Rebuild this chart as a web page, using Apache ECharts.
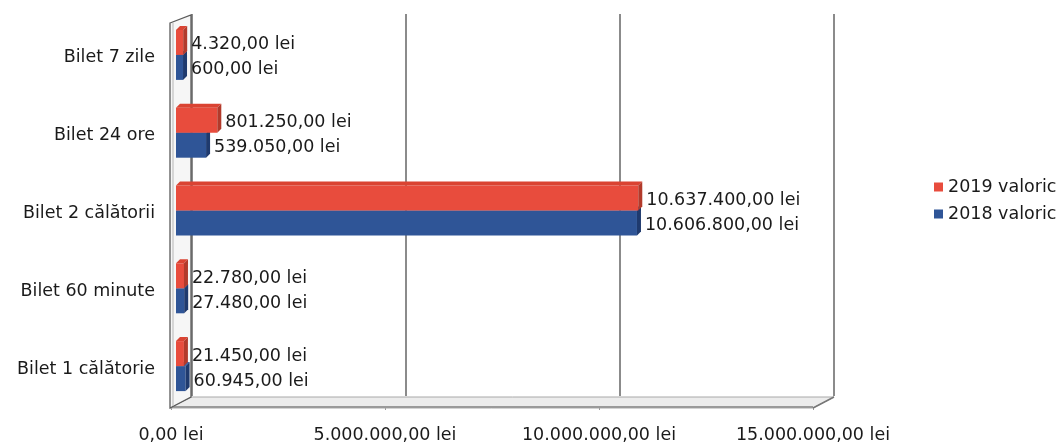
<!DOCTYPE html>
<html>
<head>
<meta charset="utf-8">
<script src="https://cdn.jsdelivr.net/npm/echarts@6/dist/echarts.min.js"></script>
<style>
html,body{margin:0;padding:0;background:#fff;}
#chart{width:1062px;height:445px;}
</style>
</head>
<body>
<div id="chart"></div>
<script>
// ---- data ----
const categories = ['Bilet 7 zile', 'Bilet 24 ore', 'Bilet 2 călătorii', 'Bilet 60 minute', 'Bilet 1 călătorie'];
const values2019 = [4320, 801250, 10637400, 22780, 21450];
const values2018 = [600, 539050, 10606800, 27480, 60945];
const seriesNames = ['2019 valoric', '2018 valoric'];
const axisMin = 0, axisMax = 15000000, axisStep = 5000000;

// ---- helpers ----
function fmt(v) {
  const parts = Number(v).toFixed(2).split('.');
  const intPart = parts[0].replace(/\B(?=(\d{3})+(?!\d))/g, '.');
  return intPart + ',' + parts[1] + ' lei';
}
const FONT = 'DejaVu Sans';
const FS = 17.5;
const TXT = '#1a1a1a';
const DX = 4, DY = -4;

function makeBarRenderer(front, topC, sideC, yTopOff, yBotOff, labelOff) {
  return function (params, api) {
    const v = api.value(0);
    const i = api.value(1);
    const p0 = api.coord([0, i]);
    const p1 = api.coord([v, i]);
    const yc = p0[1] + 1;
    const x0 = p0[0] + 5;
    const x1 = p1[0] + 12;
    const yT = yc + yTopOff, yB = yc + yBotOff;
    return {
      type: 'group',
      children: [
        { type: 'rect', shape: { x: x0, y: yT, width: x1 - x0, height: yB - yT }, style: { fill: front } },
        { type: 'polygon', shape: { points: [[x0, yT], [x1, yT], [x1 + DX, yT + DY], [x0 + DX, yT + DY]] }, style: { fill: topC } },
        { type: 'polygon', shape: { points: [[x1, yT], [x1 + DX, yT + DY], [x1 + DX, yB + DY], [x1, yB]] }, style: { fill: sideC } },
        { type: 'text', x: p1[0] + 20, y: yc + labelOff,
          style: { text: fmt(v), fontFamily: FONT, fontSize: FS, fill: TXT, verticalAlign: 'middle', align: 'left' } }
      ]
    };
  };
}

function frameRenderer(params, api) {
  const cs = params.coordSys;
  const xL = cs.x - 1;
  const xR = cs.x + cs.width;
  const top = cs.y, bot = cs.y + cs.height;
  const ddx = 21, ddy = -11;
  return {
    type: 'group',
    children: [
      // floor
      { type: 'polygon', shape: { points: [[xL, bot], [xR, bot], [xR + ddx, bot + ddy], [xL + ddx, bot + ddy]] },
        style: { fill: '#ececec', stroke: '#a8a8a8', lineWidth: 1 } },
      { type: 'line', shape: { x1: xL, y1: bot - 1, x2: xR, y2: bot - 1 }, style: { stroke: '#9a9a9a', lineWidth: 2 } },
      { type: 'line', shape: { x1: xR, y1: bot, x2: xR + ddx, y2: bot + ddy }, style: { stroke: '#777', lineWidth: 1.5 } },
      // left wall
      { type: 'polygon', shape: { points: [[xL, top + 4], [xL + ddx, top - 4], [xL + ddx, bot + ddy], [xL, bot]] },
        style: { fill: '#f6f6f6', stroke: '#5a5a5a', lineWidth: 1.3 } },
      { type: 'line', shape: { x1: xL + 3, y1: top + 4, x2: xL + 3, y2: bot - 2 }, style: { stroke: '#b5b5b5', lineWidth: 1 } }
    ]
  };
}

const chart = echarts.init(document.getElementById('chart'), null, { renderer: 'canvas' });
chart.setOption({
  backgroundColor: '#ffffff',
  animation: false,
  textStyle: { fontFamily: FONT },
  grid: [
    { left: 171, right: 249, top: 19, bottom: 37 },
    { left: 192, right: 228, top: 14, bottom: 49 }
  ],
  legend: {
    data: seriesNames,
    orient: 'vertical',
    left: 929,
    top: 173,
    icon: 'rect',
    itemWidth: 9,
    itemHeight: 9,
    itemGap: 9,
    textStyle: { fontFamily: FONT, fontSize: FS, color: TXT, lineHeight: 18 }
  },
  xAxis: [
    {
      gridIndex: 0, type: 'value', min: axisMin, max: axisMax, interval: axisStep,
      axisLine: { show: false },
      axisTick: { show: true, length: 2, lineStyle: { color: '#999' } },
      splitLine: { show: false },
      axisLabel: { margin: 18, formatter: fmt, fontFamily: FONT, fontSize: FS, color: TXT }
    },
    {
      gridIndex: 1, type: 'value', min: axisMin, max: axisMax, interval: axisStep,
      axisLine: { show: false }, axisTick: { show: false }, axisLabel: { show: false },
      splitLine: { show: true, lineStyle: { color: '#6e6e6e', width: 1.6 } }
    }
  ],
  yAxis: [
    {
      gridIndex: 0, type: 'category', data: categories, inverse: true,
      axisLine: { show: false }, axisTick: { show: false }, splitLine: { show: false },
      axisLabel: { margin: 16, fontFamily: FONT, fontSize: FS, color: TXT }
    },
    { gridIndex: 1, type: 'value', min: 0, max: 1, show: false }
  ],
  series: [
    {
      name: 'frame', type: 'custom', xAxisIndex: 0, yAxisIndex: 0, z: 1,
      data: [[0, 0]], renderItem: frameRenderer, silent: true
    },
    {
      name: seriesNames[1], type: 'custom', xAxisIndex: 0, yAxisIndex: 0, z: 3,
      itemStyle: { color: '#2F5597' },
      encode: { x: 0, y: 1 },
      data: values2018.map((v, i) => [v, i]),
      renderItem: makeBarRenderer('#2F5597', '#3A62A8', '#1F3A6E', -4, 21, 11)
    },
    {
      name: seriesNames[0], type: 'custom', xAxisIndex: 0, yAxisIndex: 0, z: 4,
      itemStyle: { color: '#E84C3D' },
      encode: { x: 0, y: 1 },
      data: values2019.map((v, i) => [v, i]),
      renderItem: makeBarRenderer('#E84C3D', '#DA4332', '#B23A2B', -29, -4, -14)
    }
  ]
});
</script>
</body>
</html>
